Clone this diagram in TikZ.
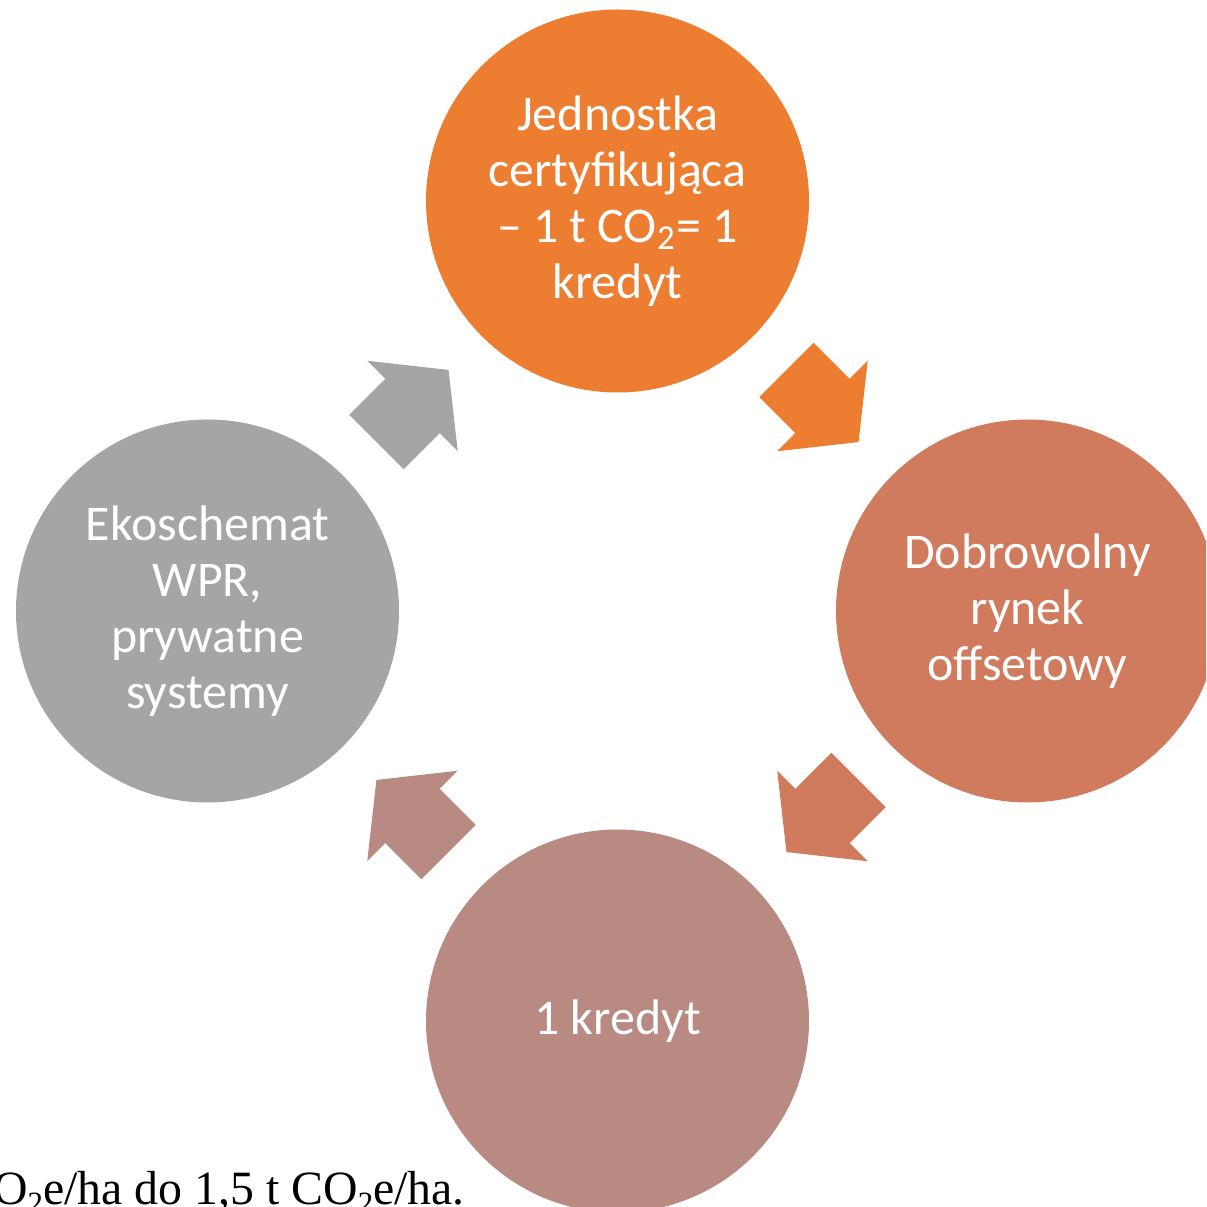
\documentclass[tikz,border=0pt]{standalone}
\usepackage{fontspec}
\newfontfamily\carlito{Carlito}
\newfontfamily\timesfont{Liberation Serif}
\usetikzlibrary{calc}
\definecolor{myorange}{HTML}{ED7D31}
\definecolor{myterra}{HTML}{D17B5E}
\definecolor{myrose}{HTML}{B98A82}
\definecolor{mygrey}{HTML}{A5A5A5}
\newcommand{\lowtwo}{\raisebox{-0.45ex}{\fontsize{8.8}{9}\selectfont 2}}
\tikzstyle{cyclenode}=[circle,minimum size=3.83cm,inner sep=0pt,text=white,align=center,
  font=\carlito\fontsize{14.2}{15.9}\selectfont]

\begin{document}
\begin{tikzpicture}
  \def\D{4.1}     % distance of circle centres from middle
  \def\L{0.51}    % half arrow length
  \def\S{0.385}   % arrow shaft half width
  \def\A{0.64}    % arrow head half width

  \clip (-6.175,-5.96) rectangle (5.885,6.11);

  % CIRCLES
  \node[cyclenode,fill=myorange] (cert) at (0,\D)
    {Jednostka\\certyfikująca\\– 1 t CO\textsubscript{2}= 1\\kredyt};
  \node[cyclenode,fill=myterra] (market) at (\D,0) {Dobrowolny\\rynek\\offsetowy};
  \node[cyclenode,fill=myrose] (credit) at (0,-\D) {1 kredyt};
  \node[cyclenode,fill=mygrey] (scheme) at (-\D,0) {Ekoschemat\\WPR,\\prywatne\\systemy};

  % ARROWS
  \foreach \s/\t/\r/\c in {cert/market/-45/myorange,market/credit/-135/myterra,
                           credit/scheme/135/myrose,scheme/cert/45/mygrey}{
    \fill[\c,shift={($(\s)!0.5!(\t)$)},rotate=\r]
      (-\L,-\S) -- (0,-\S) -- (0,-\A) -- (\L,0) -- (0,\A) -- (0,\S) -- (-\L,\S) -- cycle;
  }

  % TEXT BELOW
  \node[anchor=base east,inner sep=0,font=\timesfont\fontsize{13.6}{15}\selectfont] (note)
    at (-1.52,-5.93) {O\lowtwo e/ha do 1,5 t CO\lowtwo e/ha.};
\end{tikzpicture}
\end{document}
